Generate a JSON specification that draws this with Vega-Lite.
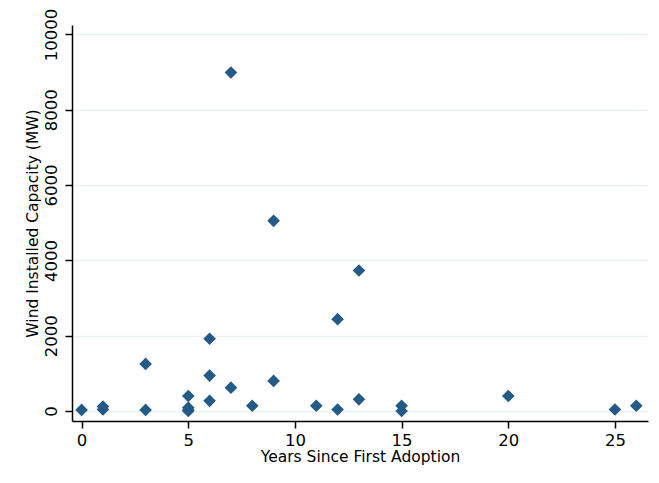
{
  "$schema": "https://vega.github.io/schema/vega-lite/v6.json",
  "autosize": "none",
  "width": 576,
  "height": 396,
  "padding": {"left": 72, "top": 25, "right": 11, "bottom": 62},
  "background": "white",
  "config": {
    "view": {"stroke": null},
    "font": "DejaVu Sans"
  },
  "data": {
    "values": [
      {"years": 0, "mw": 30},
      {"years": 1, "mw": 120},
      {"years": 1, "mw": 40},
      {"years": 3, "mw": 1250},
      {"years": 3, "mw": 30},
      {"years": 5, "mw": 400},
      {"years": 5, "mw": 90},
      {"years": 5, "mw": 30},
      {"years": 5, "mw": 0},
      {"years": 6, "mw": 1920},
      {"years": 6, "mw": 940},
      {"years": 6, "mw": 270},
      {"years": 7, "mw": 8990},
      {"years": 7, "mw": 620},
      {"years": 8, "mw": 140},
      {"years": 9, "mw": 5050},
      {"years": 9, "mw": 800},
      {"years": 11, "mw": 140},
      {"years": 12, "mw": 2440},
      {"years": 12, "mw": 40},
      {"years": 13, "mw": 3730},
      {"years": 13, "mw": 310},
      {"years": 15, "mw": 140},
      {"years": 15, "mw": 0},
      {"years": 20, "mw": 400},
      {"years": 25, "mw": 40},
      {"years": 26, "mw": 140}
    ]
  },
  "mark": {"type": "point", "shape": "diamond", "filled": true, "size": 160, "color": "#245b86", "opacity": 1},
  "encoding": {
    "x": {
      "field": "years",
      "type": "quantitative",
      "scale": {"domain": [-0.45, 26.55], "nice": false, "zero": false},
      "axis": {
        "title": "Years Since First Adoption",
        "values": [0, 5, 10, 15, 20, 25],
        "format": "d",
        "grid": false,
        "domainColor": "black",
        "domainWidth": 1.5,
        "tickColor": "black",
        "tickWidth": 1.5,
        "tickSize": 7,
        "labelFontSize": 16.5,
        "labelColor": "black",
        "labelPadding": 4,
        "labelFont": "DejaVu Sans",
        "titleFont": "DejaVu Sans",
        "titleFontSize": 15.5,
        "titleFontWeight": "normal",
        "titleColor": "black",
        "titlePadding": 1
      }
    },
    "y": {
      "field": "mw",
      "type": "quantitative",
      "scale": {"domain": [-265, 10250], "nice": false, "zero": false},
      "axis": {
        "title": "Wind Installed Capacity (MW)",
        "values": [0, 2000, 4000, 6000, 8000, 10000],
        "format": "d",
        "grid": true,
        "gridColor": "#eaf2f3",
        "gridWidth": 1.5,
        "domainColor": "black",
        "domainWidth": 1.5,
        "tickColor": "black",
        "tickWidth": 1.5,
        "tickSize": 7,
        "labelAngle": -90,
        "labelAlign": "center",
        "labelBaseline": "bottom",
        "labelFontSize": 16.5,
        "labelColor": "black",
        "labelPadding": 6,
        "labelFont": "DejaVu Sans",
        "titleFont": "DejaVu Sans",
        "titleFontSize": 15.5,
        "titleFontWeight": "normal",
        "titleColor": "black",
        "titlePadding": 3
      }
    }
  }
}
